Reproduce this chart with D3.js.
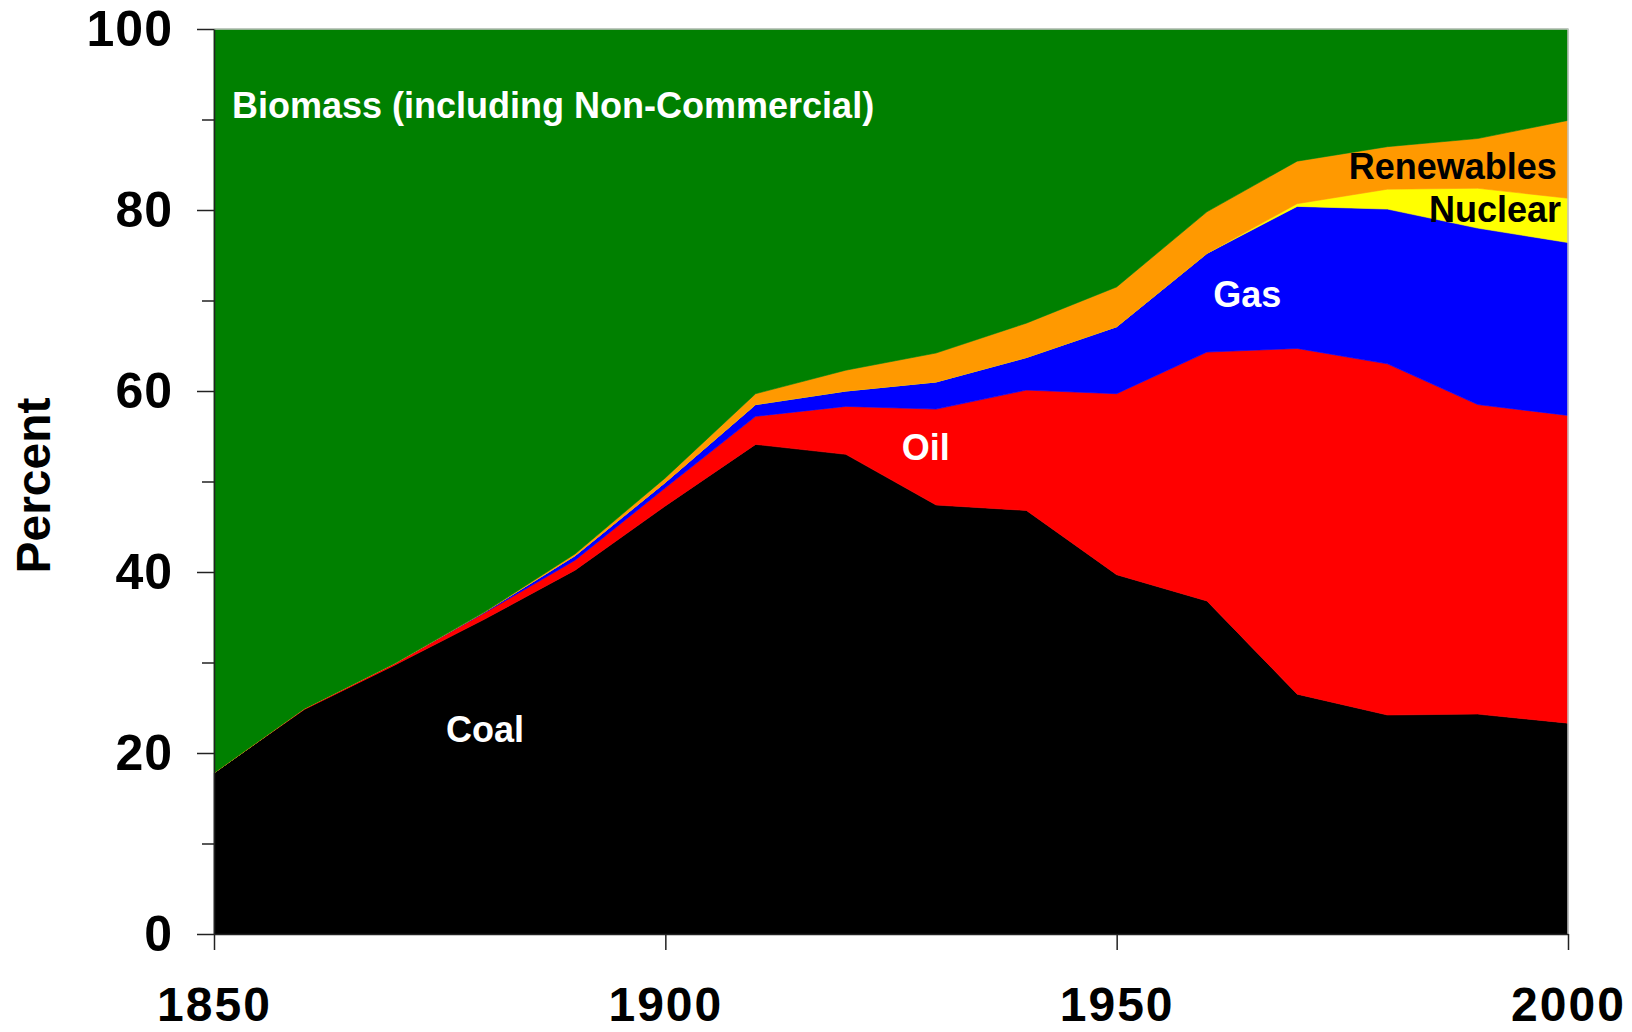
<!DOCTYPE html>
<html>
<head>
<meta charset="utf-8">
<script src="https://cdn.jsdelivr.net/npm/d3@7"></script>
<style>
  body { margin: 0; background: #fff; }
  text { font-family: "Liberation Sans", Arial, sans-serif; font-weight: bold; }
</style>
</head>
<body>
<div id="chart"></div>
<script>
// data (percent of world primary energy)
var years      = [1850, 1860, 1870, 1880, 1890, 1900, 1910, 1920, 1930, 1940, 1950, 1960, 1970, 1980, 1990, 2000];
var coal       = [17.8, 24.8, 29.7, 34.8, 40.2, 47.3, 54.1, 53.0, 47.4, 46.8, 39.7, 36.8, 26.5, 24.2, 24.3, 23.3];
var oil        = [0.0, 0.1, 0.2, 0.7, 1.1, 2.0, 3.1, 5.3, 10.6, 13.3, 20.0, 27.5, 38.2, 38.8, 34.2, 34.0];
var gas        = [0.0, 0.0, 0.0, 0.1, 0.5, 0.6, 1.3, 1.7, 3.0, 3.6, 7.4, 10.9, 15.7, 17.1, 19.5, 19.1];
var nuclear    = [0.0, 0.0, 0.0, 0.0, 0.0, 0.0, 0.0, 0.0, 0.0, 0.0, 0.0, 0.0, 0.3, 2.2, 4.4, 4.9];
var renewables = [0.0, 0.0, 0.0, 0.0, 0.2, 0.5, 1.2, 2.3, 3.2, 3.8, 4.4, 4.6, 4.7, 4.7, 5.5, 8.6];
var biomass    = [82.2, 75.1, 70.1, 64.4, 58.0, 49.6, 40.3, 37.7, 35.8, 32.5, 28.5, 20.2, 14.6, 13.0, 12.1, 10.1];

var keys   = ["coal", "oil", "gas", "nuclear", "renewables", "biomass"];
var colors = {coal: "#000000", oil: "#ff0000", gas: "#0000ff", nuclear: "#ffff00", renewables: "#ff9900", biomass: "#008000"};

var xTicks = [1850, 1900, 1950, 2000];
var yMajor = [0, 20, 40, 60, 80, 100];
var yMinor = [10, 30, 50, 70, 90];

// build rows for d3.stack
var rows = years.map(function(y, i) {
  return {year: y, coal: coal[i], oil: oil[i], gas: gas[i], nuclear: nuclear[i],
          renewables: renewables[i], biomass: biomass[i]};
});

var margin = {top: 29, right: 64, bottom: 98, left: 214},
    width = 1632 - margin.left - margin.right,
    height = 1032 - margin.top - margin.bottom;

var svg = d3.select("#chart")
  .append("svg")
    .attr("width", 1632)
    .attr("height", 1032)
  .append("g")
    .attr("transform", "translate(" + margin.left + "," + margin.top + ")");

var x = d3.scaleLinear()
  .domain([1850, 2000])
  .range([0, width]);

var y = d3.scaleLinear()
  .domain([0, 100])
  .range([height, 0]);

var series = d3.stack().keys(keys)(rows);

var area = d3.area()
  .x(function(d) { return x(d.data.year); })
  .y0(function(d) { return y(d[0]); })
  .y1(function(d) { return y(Math.min(d[1], 100)); });

// Areas
svg.selectAll("path.layer")
  .data(series)
  .enter()
  .append("path")
    .attr("class", "layer")
    .attr("d", area)
    .style("fill", function(d) { return colors[d.key]; })
    .style("stroke", function(d) { return colors[d.key]; })
    .style("stroke-width", 0.6);

// light frame on top and right
svg.append("path")
  .attr("d", "M0,0H" + width + "V" + height)
  .attr("fill", "none")
  .attr("stroke", "#c4c4c4")
  .attr("stroke-width", 1.5);

// Y axis: minor ticks, then major ticks with labels
svg.append("g")
  .call(d3.axisLeft(y).tickValues(yMinor).tickSize(12).tickSizeOuter(0).tickFormat(""))
  .call(function(g) { g.select(".domain").remove(); })
  .selectAll("line").attr("stroke", "#222").attr("stroke-width", 1.5);

var yAxis = svg.append("g")
  .call(d3.axisLeft(y).tickValues(yMajor).tickSize(17).tickSizeOuter(0).tickPadding(24));
yAxis.selectAll("line").attr("stroke", "#222").attr("stroke-width", 1.5);
yAxis.select(".domain").attr("stroke", "#222").attr("stroke-width", 1.5);
yAxis.selectAll("text")
  .style("font-size", "50px")
  .style("letter-spacing", "1px")
  .attr("fill", "#000");

// X axis
var xAxis = svg.append("g")
  .attr("transform", "translate(0," + height + ")")
  .call(d3.axisBottom(x).tickValues(xTicks).tickSize(16).tickSizeOuter(0).tickPadding(37).tickFormat(d3.format("d")));
xAxis.selectAll("line").attr("stroke", "#222").attr("stroke-width", 1.5);
xAxis.select(".domain").attr("stroke", "#222").attr("stroke-width", 1.5);
xAxis.selectAll("text")
  .style("font-size", "48px")
  .style("letter-spacing", "2px")
  .attr("fill", "#000");

// Y label
svg.append("text")
  .attr("transform", "translate(" + (50 - margin.left) + "," + (height / 2 + 4) + ")rotate(-90)")
  .style("text-anchor", "middle")
  .style("font-size", "48px")
  .text("Percent");

// series labels inside the areas
var labels = [
  {text: "Biomass (including Non-Commercial)", year: 1852.0, value: 90.2, color: "#fff"},
  {text: "Coal", year: 1875.7, value: 21.2, color: "#fff"},
  {text: "Oil", year: 1926.2, value: 52.4, color: "#fff"},
  {text: "Gas", year: 1960.7, value: 69.3, color: "#fff"},
  {text: "Renewables", year: 1975.7, value: 83.4, color: "#000"},
  {text: "Nuclear", year: 1984.6, value: 78.7, color: "#000"}
];

svg.selectAll("text.lab")
  .data(labels)
  .enter()
  .append("text")
    .attr("class", "lab")
    .attr("x", function(d) { return x(d.year); })
    .attr("y", function(d) { return y(d.value); })
    .style("font-size", "36px")
    .attr("fill", function(d) { return d.color; })
    .text(function(d) { return d.text; });
</script>
</body>
</html>
